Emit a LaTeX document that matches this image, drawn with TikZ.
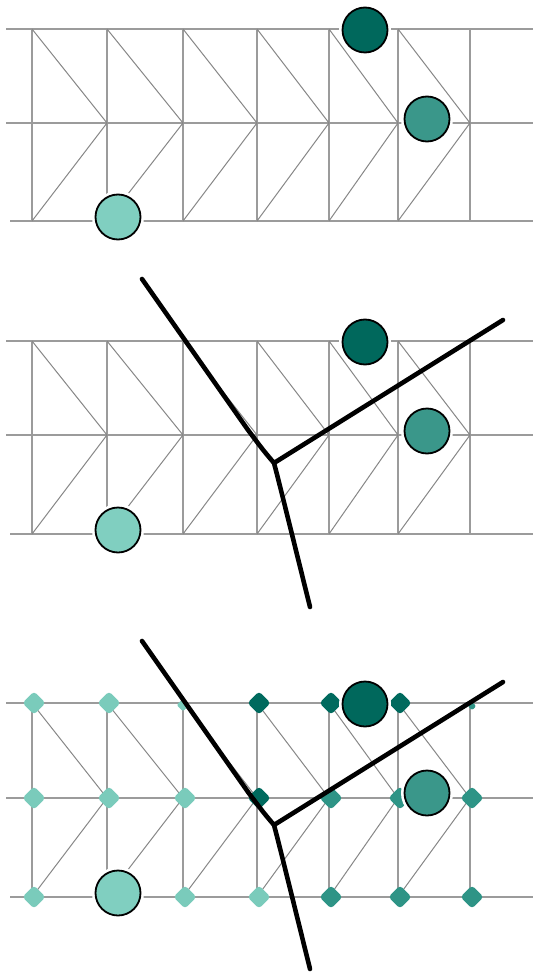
\documentclass[tikz,border=0pt]{standalone}
\usetikzlibrary{shapes.geometric}
\definecolor{cdark}{RGB}{0,104,92}
\definecolor{cmed}{RGB}{58,151,138}
\definecolor{clight}{RGB}{128,207,192}
\definecolor{ddark}{RGB}{0,106,94}
\definecolor{dmed}{RGB}{46,148,134}
\definecolor{dlight}{RGB}{122,203,187}
\definecolor{gridgray}{RGB}{155,155,155}
\definecolor{diaggray}{RGB}{135,135,135}
\begin{document}
\begin{tikzpicture}[x=1pt,y=-1pt,
  gridline/.style={draw=gridgray,line width=2pt},
  diagline/.style={draw=diaggray,line width=1pt},
  site/.style={circle,draw=black,line width=1.8pt,minimum size=45pt,inner sep=0pt,
    preaction={draw=white,line width=7pt}},
  cell/.style={rectangle,rotate=45,inner sep=0pt,minimum width=16.5pt,minimum height=16.5pt,
    rounded corners=3.5pt,draw=none},
  smallcell/.style={cell,minimum width=9pt,minimum height=9pt,rounded corners=2pt},
  boundary/.style={draw=black,line width=4.6pt,line cap=round,line join=round}]
\useasboundingbox (0,0) rectangle (533,976);
\fill[white] (0,0) rectangle (533,976);

% grids of the three panels
\foreach \t/\m/\b in {29/123/221, 341/435/534, 703/798/897} {
  \draw[gridline] (6,\t) -- (533,\t);
  \draw[gridline] (6,\m) -- (533,\m);
  \draw[gridline] (10,\b) -- (533,\b);
  \foreach \x in {32,107,183,257,329,398,470}
    \draw[gridline] (\x,\t) -- (\x,\b);
  \foreach \x/\nx in {32/107,107/183,183/257,257/329,329/398,398/470} {
    \draw[diagline] (\x,\t) -- (\nx,\m);
    \draw[diagline] (\nx,\m) -- (\x,\b);
  }
}

% cell markers of the third panel
\foreach \x/\c [count=\i] in {32/dlight,107/dlight,257/ddark,329/ddark,398/ddark}
  \node[cell,fill=\c] (top\i) at (\x+2,703) {};
\node[smallcell,fill=dlight] (top6) at (183,705) {};
\node[smallcell,fill=dmed,minimum width=6pt,minimum height=6pt] (top7) at (472,706) {};
\foreach \x/\c [count=\i] in {32/dlight,107/dlight,183/dlight,257/ddark,329/dmed,398/dmed,470/dmed}
  \node[cell,fill=\c] (mid\i) at (\x+2,798) {};
\foreach \x/\c [count=\i] in {32/dlight,107/dlight,183/dlight,257/dlight,329/dmed,398/dmed,470/dmed}
  \node[cell,fill=\c] (bot\i) at (\x+2,897) {};

% sites
\foreach \t/\b/\p in {29/221/1, 341/534/2, 703/897/3} {
  \node[site,fill=cdark] (dark\p) at (365,\t+1) {};
  \node[site,fill=cmed] (med\p) at (427,\t+90) {};
  \node[site,fill=clight] (light\p) at (118,\b-4) {};
}

% boundaries of panels 2 and 3
\foreach \p/\dy in {2/0, 3/362} {
  \coordinate (ul\p) at (142,279+\dy);
  \coordinate (k\p) at (248,430+\dy);
  \coordinate (c\p) at (263,450+\dy);
  \coordinate (j\p) at (274,463+\dy);
  \coordinate (r\p) at (503,320+\dy);
  \coordinate (bc\p) at (279,482+\dy);
  \coordinate (b\p) at (310,607+\dy);
  \draw[boundary] (ul\p) -- (k\p) .. controls (c\p) .. (j\p) -- (r\p);
  \draw[boundary] (j\p) .. controls (bc\p) .. (b\p);
}
\end{tikzpicture}
\end{document}
